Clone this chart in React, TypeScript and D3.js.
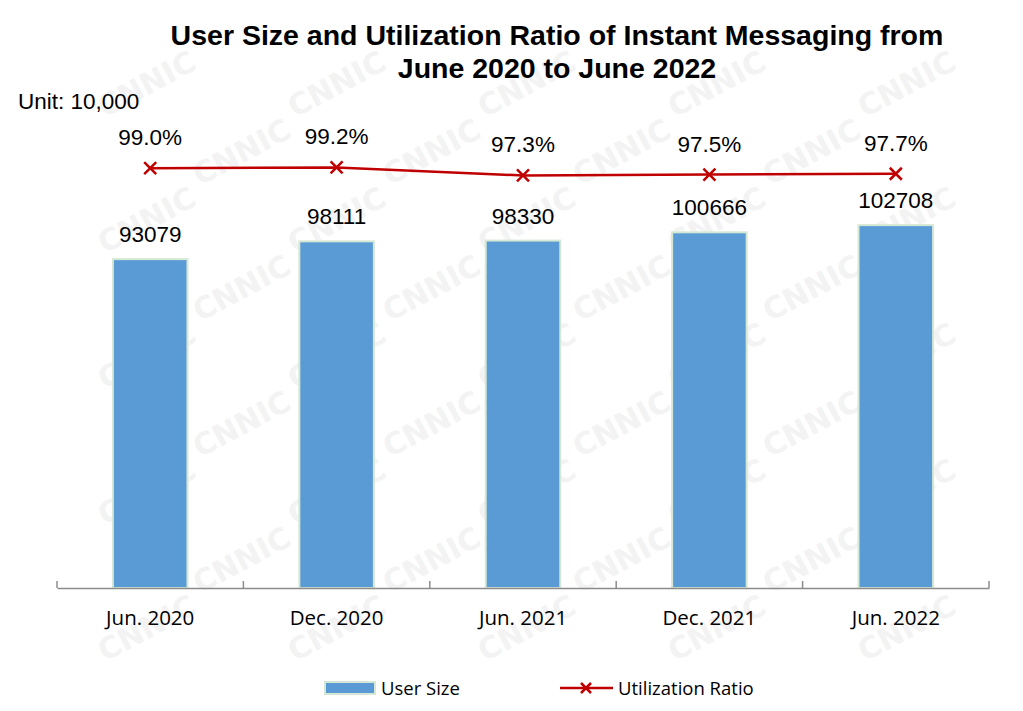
import { useEffect, useRef } from "react";
import * as d3 from "d3";

const categories = ["Jun. 2020", "Dec. 2020", "Jun. 2021", "Dec. 2021", "Jun. 2022"];
const userSize = [93079, 98111, 98330, 100666, 102708];
const utilization = [99.0, 99.2, 97.3, 97.5, 97.7];

const W = 1023;
const H = 711;

const App = () => {
  const ref = useRef<SVGSVGElement>(null);

  useEffect(() => {
    document.body.style.margin = "0";
    const svg = d3.select(ref.current);
    svg.selectAll("*").remove();

    const left = 57, right = 989, bottom = 588, top = 164;
    const arial = "Arial, 'Liberation Sans', sans-serif";
    const calibri = "'Open Sans', Calibri, sans-serif";

    // watermark (faint, only where it fits in the picture)
    const wm = svg.append("g").attr("fill", "#f3f3f3").style("font-family", "'DejaVu Sans', sans-serif")
      .style("font-weight", "bold").style("font-size", "30px");
    d3.range(-1, 7).forEach((c) => {
      d3.range(0, 12).forEach((r) => {
        const px = c * 190 + (r % 2) * 95 + 10;
        const py = r * 68 + 50;
        wm.append("text").attr("transform", `translate(${px},${py}) rotate(-28)`).text("CNNIC");
      });
    });
    const svgBox = ref.current!.getBoundingClientRect();
    wm.selectAll<SVGTextElement, unknown>("text").each(function () {
      const b = this.getBoundingClientRect();
      if (b.left < svgBox.left || b.top < svgBox.top || b.right > svgBox.left + W || b.bottom > svgBox.top + H) {
        d3.select(this).remove();
      }
    });

    const x = d3.scaleBand().domain(categories).range([left, right]).paddingInner(0.6).paddingOuter(0.3);
    const xBand = d3.scaleBand().domain(categories).range([left, right]);
    const y = d3.scaleLinear().domain([0, 120000]).range([bottom, top]);
    const y2 = d3.scaleLinear().domain([0, 100]).range([bottom, top]);

    // title
    const title = svg.append("text").attr("text-anchor", "middle")
      .style("font-family", arial).style("font-weight", "bold")
      .style("font-size", "28.5px").attr("fill", "#000");
    title.append("tspan").attr("x", 557).attr("y", 45).text("User Size and Utilization Ratio of Instant Messaging from");
    title.append("tspan").attr("x", 557).attr("y", 78).text("June 2020 to June 2022");

    svg.append("text").attr("x", 18).attr("y", 109)
      .style("font-family", arial).style("font-size", "22.5px")
      .text("Unit: 10,000");

    // bars
    svg.append("g").selectAll("rect").data(userSize).join("rect")
      .attr("x", (d, i) => x(categories[i])!)
      .attr("y", (d) => y(d))
      .attr("width", x.bandwidth())
      .attr("height", (d) => bottom - y(d))
      .attr("fill", "#5B9BD5")
      .attr("stroke", "#D5E8D4")
      .attr("stroke-width", 2);

    svg.append("g").selectAll("text").data(userSize).join("text")
      .attr("x", (d, i) => x(categories[i])! + x.bandwidth() / 2)
      .attr("y", (d) => y(d) - 17)
      .attr("text-anchor", "middle")
      .style("font-family", arial).style("font-size", "22.5px")
      .text((d) => d);

    // axis
    const axis = svg.append("g").attr("transform", `translate(0,${bottom})`)
      .call(d3.axisBottom(xBand).tickSize(0).tickPadding(0));
    axis.select(".domain").attr("stroke", "#8c8c8c").attr("stroke-width", 1.5);
    axis.selectAll(".tick text").remove();
    const bounds = [...categories.map((c) => xBand(c)!), right];
    axis.selectAll("line.bound").data(bounds).join("line").attr("class", "bound")
      .attr("x1", (d) => d).attr("x2", (d) => d).attr("y1", -7).attr("y2", 0)
      .attr("stroke", "#8c8c8c").attr("stroke-width", 1.5);
    svg.append("g").selectAll("text").data(categories).join("text")
      .attr("x", (d) => xBand(d)! + xBand.bandwidth() / 2)
      .attr("y", 625)
      .attr("text-anchor", "middle")
      .style("font-family", calibri).style("font-size", "20.5px")
      .text((d) => d);

    // line
    const cx = (i: number) => xBand(categories[i])! + xBand.bandwidth() / 2;
    const line = d3.line<number>().x((d, i) => cx(i)).y((d) => y2(d));
    svg.append("path").datum(utilization).attr("d", line)
      .attr("fill", "none").attr("stroke", "#C00000").attr("stroke-width", 2.5);

    const cross = (g: d3.Selection<SVGGElement, unknown, null, undefined>, px: number, py: number, s: number) => {
      g.append("path").attr("d", `M${px - s},${py - s}L${px + s},${py + s}M${px - s},${py + s}L${px + s},${py - s}`)
        .attr("stroke", "#C00000").attr("stroke-width", 2.5).attr("fill", "none");
    };
    const markers = svg.append("g");
    utilization.forEach((d, i) => cross(markers, cx(i), y2(d), 6));

    svg.append("g").selectAll("text").data(utilization).join("text")
      .attr("x", (d, i) => cx(i))
      .attr("y", (d) => y2(d) - 23)
      .attr("text-anchor", "middle")
      .style("font-family", arial).style("font-size", "22.5px")
      .text((d) => d.toFixed(1) + "%");

    // legend
    const lg = svg.append("g").style("font-family", calibri).style("font-size", "18.5px");
    lg.append("rect").attr("x", 325).attr("y", 682).attr("width", 50).attr("height", 12)
      .attr("fill", "#5B9BD5").attr("stroke", "#D5E8D4").attr("stroke-width", 2);
    lg.append("text").attr("x", 381).attr("y", 695).text("User Size");
    lg.append("line").attr("x1", 560).attr("x2", 613).attr("y1", 688).attr("y2", 688)
      .attr("stroke", "#C00000").attr("stroke-width", 2.5);
    cross(lg, 586, 688, 5);
    lg.append("text").attr("x", 618).attr("y", 695).text("Utilization Ratio");
  }, []);

  return <svg ref={ref} width={W} height={H} style={{ display: "block", background: "#fff" }} />;
};

export default App;
